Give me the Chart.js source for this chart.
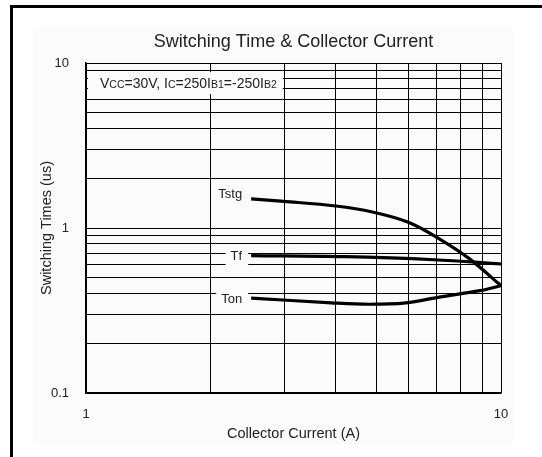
<!DOCTYPE html>
<html><head><meta charset="utf-8">
<script src="https://cdn.jsdelivr.net/npm/chart.js@4.4.1/dist/chart.umd.min.js"></script>
<style>
html,body{margin:0;padding:0;background:#fff;}
#wrap{position:relative;width:542px;height:457px;overflow:hidden;}
#frame{position:absolute;left:10px;top:5px;width:700px;height:700px;border-top:3px solid #000;border-left:3px solid #000;}
#panel{position:absolute;left:33px;top:27px;width:480px;height:418px;background:#fbfbfb;}
canvas{position:absolute;left:0;top:0;}
</style></head><body>
<div id="wrap"><div id="frame"></div><div id="panel"></div><canvas id="c" width="542" height="457"></canvas></div>
<script>
// ---- data ----
const tstgX = [2.5, 3.0, 4.0, 4.9, 6.0, 7.1, 8.4, 10];
const tstgY = [1.50, 1.45, 1.36, 1.25, 1.08, 0.86, 0.65, 0.447];
const tfX = [2.5, 4.2, 6.9, 10];
const tfY = [0.68, 0.67, 0.642, 0.605];
const tonX = [2.5, 3.9, 4.8, 5.9, 7.1, 8.9, 10];
const tonY = [0.376, 0.352, 0.345, 0.352, 0.381, 0.417, 0.447];

const xTickValues = [1, 2, 3, 4, 5, 6, 7, 8, 9, 10];
const xTickLabeled = [1, 10];
const yTickValues = [0.1, 0.2, 0.3, 0.4, 0.5, 0.6, 0.7, 0.8, 0.9, 1, 2, 3, 4, 5, 6, 7, 8, 9, 10];
const yTickLabeled = [0.1, 1, 10];

const seriesNames = ['Tstg', 'Tf', 'Ton'];
const seriesLabelX = [2.5, 2.5, 2.5];
const seriesLabelY = [1.6, 0.67, 0.37];

const conditionParts = [['V', 0], ['CC', 1], ['=30V, I', 0], ['C', 1], ['=250I', 0], ['B1', 1], ['=-250I', 0], ['B2', 1]];
const conditionX = 1;
const conditionY = 7.55;

const titleText = 'Switching Time & Collector Current';
const xTitle = 'Collector Current (A)';
const yTitle = 'Switching Times (us)';

const FONT = "'Liberation Sans', Arial, sans-serif";
const TXT = '#222';
const PANEL = '#fbfbfb';

function pts(xs, ys) { return xs.map((x, i) => ({ x: x, y: ys[i] })); }

const labelPlugin = {
  id: 'labels',
  beforeDatasetsDraw(chart) {
    const ctx = chart.ctx;
    const xs = chart.scales.x, ys = chart.scales.y;
    ctx.save();
    ctx.font = '13px ' + FONT;
    ctx.textBaseline = 'middle';
    ctx.textAlign = 'right';
    seriesNames.forEach((name, i) => {
      const px = xs.getPixelForValue(seriesLabelX[i]) - 9;
      const py = ys.getPixelForValue(seriesLabelY[i]);
      const w = ctx.measureText(name).width;
      ctx.fillStyle = PANEL;
      ctx.fillRect(px - w - 5, py - 8, w + 11, 17);
      ctx.fillStyle = TXT;
      ctx.fillText(name, px, py);
    });
    const sizes = [14, 10.5];
    let total = 0;
    conditionParts.forEach(p => { ctx.font = sizes[p[1]] + 'px ' + FONT; total += ctx.measureText(p[0]).width; });
    const left = xs.getPixelForValue(conditionX) + 14;
    const cy = ys.getPixelForValue(conditionY);
    ctx.fillStyle = PANEL;
    ctx.fillRect(left - 12, cy - 11, total + 18, 22);
    ctx.fillStyle = TXT;
    ctx.textAlign = 'left';
    ctx.textBaseline = 'alphabetic';
    let x = left;
    conditionParts.forEach(p => {
      ctx.font = sizes[p[1]] + 'px ' + FONT;
      ctx.fillText(p[0], x, cy + 5);
      x += ctx.measureText(p[0]).width;
    });
    ctx.restore();
  }
};

const lineDs = (label, data) => ({
  label: label, data: data, borderColor: '#000', borderWidth: 3.2,
  pointRadius: 0, fill: false, tension: 0.35
});

new Chart(document.getElementById('c'), {
  type: 'line',
  data: {
    datasets: [
      lineDs('Tstg', pts(tstgX, tstgY)),
      lineDs('Tf', pts(tfX, tfY)),
      lineDs('Ton', pts(tonX, tonY))
    ]
  },
  options: {
    responsive: false,
    animation: false,
    layout: { padding: { left: 0, right: 41, top: 0, bottom: 0 } },
    plugins: {
      legend: { display: false },
      tooltip: { enabled: false },
      title: {
        display: true, text: titleText, color: TXT, fullSize: false,
        font: { family: FONT, size: 18, weight: 'normal', lineHeight: 1.2 },
        padding: { top: 31, bottom: 10.4 }
      }
    },
    scales: {
      x: {
        type: 'logarithmic', min: 1, max: 10,
        afterBuildTicks: s => { s.ticks = xTickValues.map(v => ({ value: v })); },
        afterFit: s => { s.height = 64; },
        ticks: {
          autoSkip: false, maxRotation: 0, padding: 14, color: TXT,
          font: { family: FONT, size: 13 },
          callback: v => xTickLabeled.includes(v) ? String(v) : ''
        },
        grid: { color: '#000', lineWidth: 1, drawTicks: false },
        border: { display: true, color: '#000', width: 1.5 },
        title: {
          display: true, text: xTitle, color: TXT,
          font: { family: FONT, size: 14.5, lineHeight: 1.2 },
          padding: { top: 0, bottom: 14.3 }
        }
      },
      y: {
        type: 'logarithmic', min: 0.1, max: 10,
        afterBuildTicks: s => { s.ticks = yTickValues.map(v => ({ value: v })); },
        afterFit: s => { s.width = 86; },
        ticks: {
          autoSkip: false, padding: 17, color: TXT,
          font: { family: FONT, size: 13 },
          callback: v => yTickLabeled.includes(v) ? String(v) : ''
        },
        grid: { color: '#000', lineWidth: 1, drawTicks: false },
        border: { display: true, color: '#000', width: 1.5 },
        title: {
          display: true, text: yTitle, color: TXT,
          font: { family: FONT, size: 14.5, lineHeight: 1.2 },
          padding: { top: 38.3, bottom: 0 }
        }
      }
    }
  },
  plugins: [labelPlugin]
});
</script>
</body></html>
